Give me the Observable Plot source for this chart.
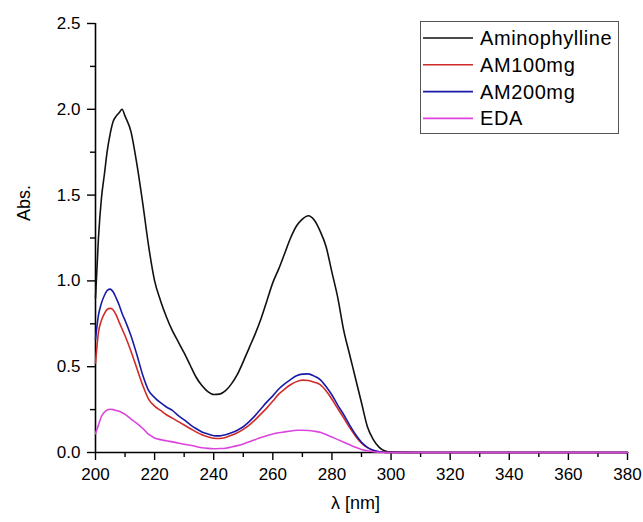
<!DOCTYPE html>
<html>
<head>
<meta charset="utf-8">
<script src="https://cdn.jsdelivr.net/npm/d3@7"></script>
<script src="https://cdn.jsdelivr.net/npm/@observablehq/plot@0.6"></script>
<style>
  html, body { margin: 0; padding: 0; background: #fff; }
  #wrap { position: relative; width: 643px; height: 522px; font-family: "Liberation Sans", Arial, sans-serif; }
  #legend { position: absolute; left: 420px; top: 21px; }
</style>
</head>
<body>
<div id="wrap"></div>
<script>
// Wavelength (nm)
const wavelength = [200,201,202,203,204,205,206,207,208,209,210,
  212,214,216,218,220,222,224,226,228,230,232,234,236,238,240,242,244,246,248,250,
  252,254,256,258,260,262,264,266,268,270,272,274,276,278,280,282,284,286,288,290,
  292,294,296,298,300,310,320,330,340,350,360,370,380];

const seriesNames = ["Aminophylline", "AM100mg", "AM200mg", "EDA"];
const seriesColors = ["#111111", "#d12a2a", "#1a1aa8", "#dd44dd"];

const aminophylline = [0.90,1.25,1.48,1.62,1.76,1.86,1.93,1.96,1.98,2.00,1.96,
  1.87,1.68,1.45,1.20,1.00, 0.885,0.79,0.71,0.645,0.58, 0.51,0.44,0.39,0.355,0.338,
  0.34,0.36,0.40,0.455,0.53, 0.61,0.69,0.78,0.885,0.99, 1.07,1.16,1.25,1.32,1.36,
  1.38,1.355,1.29,1.20,1.05, 0.90,0.71,0.57,0.43,0.29, 0.15,0.075,0.03,0.008,0.002,
  0,0,0,0,0,0,0,0];
const am100mg = [0.52,0.70,0.77,0.81,0.835,0.84,0.83,0.80,0.76,0.72,0.68,
  0.59,0.49,0.39,0.31,0.27, 0.245,0.22,0.20,0.18,0.16, 0.14,0.12,0.103,0.092,0.083,
  0.082,0.088,0.10,0.115,0.135, 0.16,0.19,0.225,0.26,0.30, 0.34,0.37,0.395,0.413,0.422,
  0.42,0.41,0.395,0.36,0.31, 0.255,0.20,0.145,0.095,0.055, 0.028,0.012,0.004,0.001,0,
  0,0,0,0,0,0,0,0];
const am200mg = [0.66,0.80,0.87,0.915,0.945,0.952,0.935,0.90,0.86,0.81,0.77,
  0.68,0.57,0.45,0.36,0.32, 0.29,0.265,0.245,0.215,0.19, 0.163,0.14,0.12,0.108,0.098,
  0.097,0.103,0.115,0.13,0.15, 0.18,0.215,0.255,0.295,0.33, 0.37,0.40,0.425,0.447,0.457,
  0.458,0.445,0.425,0.385,0.335, 0.275,0.22,0.16,0.105,0.06, 0.03,0.013,0.004,0.001,0,
  0,0,0,0,0,0,0,0];
const eda = [0.11,0.16,0.21,0.235,0.248,0.252,0.25,0.245,0.24,0.232,0.222,
  0.195,0.17,0.14,0.105,0.085, 0.075,0.068,0.062,0.055,0.048, 0.042,0.035,0.028,0.024,0.022,
  0.023,0.025,0.032,0.04,0.05, 0.062,0.075,0.088,0.098,0.108, 0.115,0.12,0.125,0.13,0.13,
  0.128,0.124,0.118,0.105,0.09, 0.075,0.06,0.045,0.03,0.018, 0.01,0.004,0.001,0,0,
  0,0,0,0,0,0,0,0];

const xTicks = [200,220,240,260,280,300,320,340,360,380];
const xMinor = [210,230,250,270,290,310,330,350,370];
const yTicks = [0,0.5,1.0,1.5,2.0,2.5];
const yMinor = [0.25,0.75,1.25,1.75,2.25];
const xLabel = "λ [nm]";
const yLabel = "Abs.";

const allValues = [aminophylline, am100mg, am200mg, eda];
const rows = seriesNames.flatMap((name, s) =>
  wavelength.map((w, i) => ({series: name, wl: w, abs: allValues[s][i]})));

const chart = Plot.plot({
  width: 643,
  height: 522,
  marginLeft: 95,
  marginRight: 16,
  marginTop: 23,
  marginBottom: 70,
  style: {fontFamily: "'Liberation Sans', Arial, sans-serif", fontSize: "17px", color: "#000", background: "#fff"},
  x: {domain: [200, 380]},
  y: {domain: [0, 2.5]},
  color: {domain: seriesNames, range: seriesColors},
  marks: [
    Plot.ruleY([0], {stroke: "#000", strokeWidth: 1.6}),
    Plot.ruleX([200], {stroke: "#000", strokeWidth: 1.6}),
    Plot.axisX({ticks: xTicks, tickSize: 8, tickPadding: 7, label: null, strokeWidth: 1.4, fontSize: 17}),
    Plot.axisX({ticks: xMinor, tickSize: 5, tickFormat: () => "", label: null, strokeWidth: 1.4}),
    Plot.axisY({ticks: yTicks, tickSize: 8, tickPadding: 7, tickFormat: d3.format(".1f"), label: null, strokeWidth: 1.4, fontSize: 17}),
    Plot.axisY({ticks: yMinor, tickSize: 5, tickFormat: () => "", label: null, strokeWidth: 1.4}),
    Plot.lineY(rows, {x: "wl", y: "abs", z: "series", stroke: "series", strokeWidth: 1.6, curve: "monotone-x"}),
    Plot.text([xLabel], {frameAnchor: "bottom", dx: -6, dy: 56, fontSize: 18}),
    Plot.text([yLabel], {frameAnchor: "left", dx: -71, dy: -17, rotate: -90, fontSize: 18})
  ]
});

const wrap = document.getElementById("wrap");
wrap.appendChild(chart);

// Legend (inside the plot area, top right)
const ns = "http://www.w3.org/2000/svg";
const lg = document.createElementNS(ns, "svg");
lg.setAttribute("id", "legend");
lg.setAttribute("width", 200);
lg.setAttribute("height", 114);
const box = document.createElementNS(ns, "rect");
box.setAttribute("x", 0.5); box.setAttribute("y", 0.5);
box.setAttribute("width", 198); box.setAttribute("height", 112);
box.setAttribute("fill", "#fff"); box.setAttribute("stroke", "#555"); box.setAttribute("stroke-width", 1);
lg.appendChild(box);
seriesNames.forEach((name, i) => {
  const cy = 17 + i * 26.8;
  const ln = document.createElementNS(ns, "line");
  ln.setAttribute("x1", 3); ln.setAttribute("x2", 53);
  ln.setAttribute("y1", cy); ln.setAttribute("y2", cy);
  ln.setAttribute("stroke", seriesColors[i]); ln.setAttribute("stroke-width", 1.6);
  lg.appendChild(ln);
  const tx = document.createElementNS(ns, "text");
  tx.setAttribute("x", 60); tx.setAttribute("y", cy);
  tx.setAttribute("dy", "0.35em");
  tx.setAttribute("font-size", 20);
  tx.setAttribute("letter-spacing", "0.6");
  tx.setAttribute("font-family", "'Liberation Sans', Arial, sans-serif");
  tx.setAttribute("fill", "#000");
  tx.textContent = name;
  lg.appendChild(tx);
});
wrap.appendChild(lg);
</script>
</body>
</html>
